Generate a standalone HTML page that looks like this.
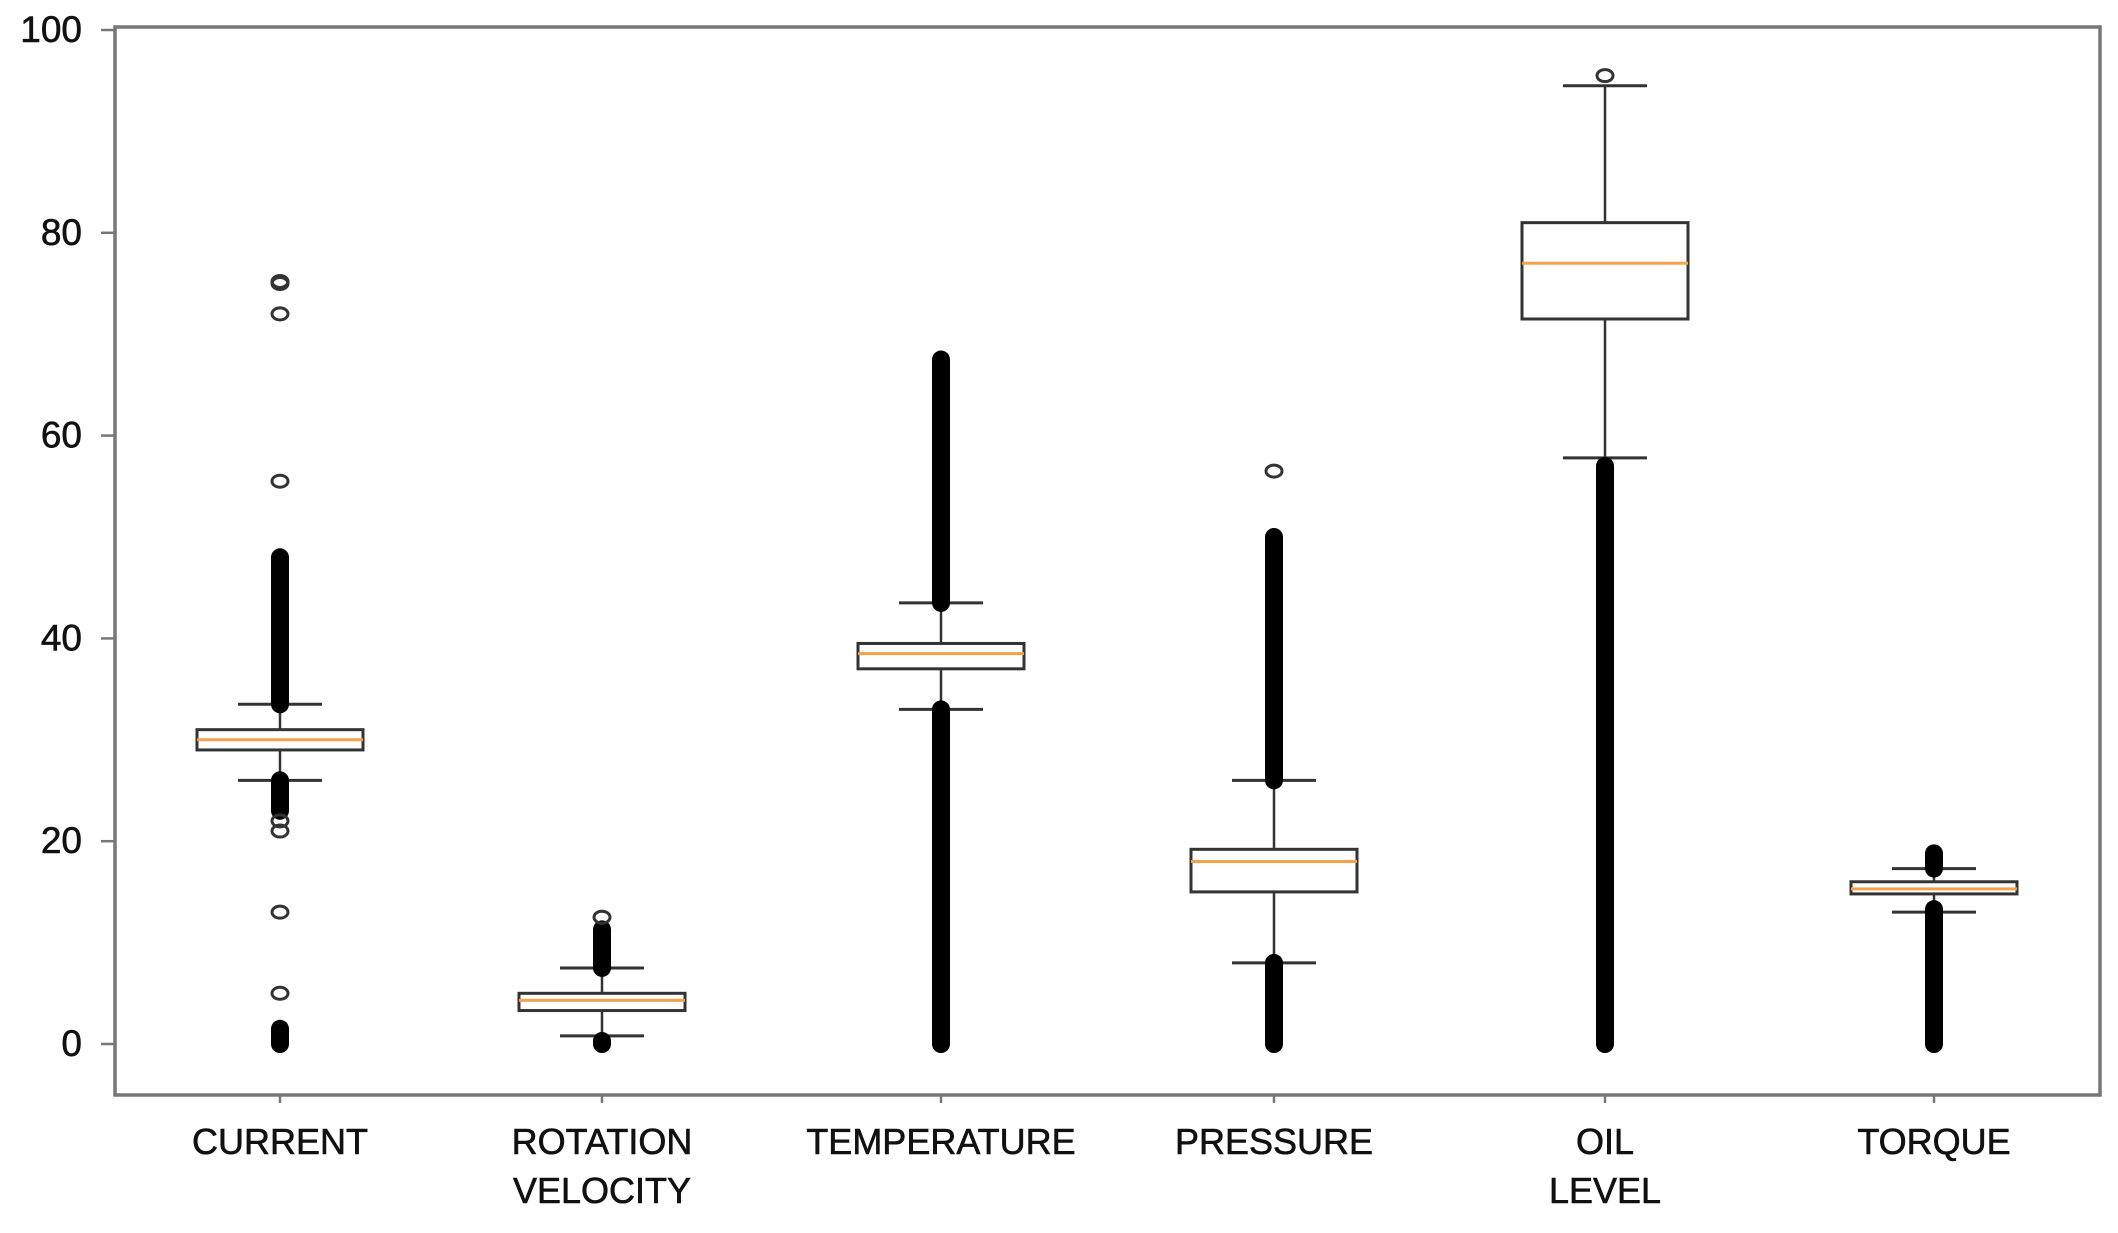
<!DOCTYPE html>
<html><head><meta charset="utf-8"><style>
html,body{margin:0;padding:0;background:#fff;}
svg{display:block;font-family:"Liberation Sans","DejaVu Sans",sans-serif;}
</style></head><body>
<svg id="chart" width="2118" height="1233" viewBox="0 0 2118 1233" xmlns="http://www.w3.org/2000/svg">
<rect x="0" y="0" width="2118" height="1233" fill="#fff"/>
<g id="plot"></g>
</svg>
<script>
const categories = ["CURRENT", "ROTATION|VELOCITY", "TEMPERATURE", "PRESSURE", "OIL|LEVEL", "TORQUE"];
const q1Values = [29, 3.3, 37, 15, 71.5, 14.8];
const medianValues = [30, 4.3, 38.5, 18, 77, 15.3];
const q3Values = [31, 5, 39.5, 19.2, 81, 16];
const whiskerLow = [26, 0.8, 33, 8, 57.8, 13];
const whiskerHigh = [33.5, 7.5, 43.5, 26, 94.5, 17.3];
const denseOutlierRanges = [
  [[33.5, 48], [23, 26], [0, 1.5]],
  [[7.5, 11.3], [0, 0.3]],
  [[43.5, 67.5], [0, 33]],
  [[26, 50], [0, 8]],
  [[0, 57]],
  [[17.3, 18.8], [0, 13.3]]
];
const singleOutliers = [
  [75, 75.2, 72, 55.5, 22, 21, 13, 5],
  [12.5],
  [],
  [56.5],
  [95.5],
  []
];
const yTicks = [0, 20, 40, 60, 80, 100];

const NS = "http://www.w3.org/2000/svg";
const L = 115, R = 2100, T = 27, B = 1095;
function yScale(v){ return 1044 - v * 10.14; }
const centers = [280, 602, 941, 1274, 1605, 1934];
function xScale(i){ return centers[i]; }
const halfW = 83;
const g = document.getElementById('plot');
function mk(tag, attrs, parent){
  const e = document.createElementNS(NS, tag);
  for (const k in attrs) e.setAttribute(k, attrs[k]);
  (parent || g).appendChild(e);
  return e;
}
const frame = mk('rect', {x:L, y:T, width:R-L, height:B-T, fill:'none', stroke:'#777', 'stroke-width':3.5});



yTicks.forEach(v => {
  const y = yScale(v);
  const t = mk('line', {x1:L-14, x2:L, y1:y, y2:y, stroke:'#777', 'stroke-width':2.5});
  
  
  const lb = mk('text', {x:82, y:y+12, 'text-anchor':'end', 'font-size':37, fill:'#111', stroke:'#111', 'stroke-width':0.6});
  lb.textContent = v;
  
  
});

categories.forEach((c, i) => {
  const x = xScale(i);
  const grp = mk('g', {});
  
  
  mk('line', {x1:x, x2:x, y1:yScale(whiskerHigh[i]), y2:yScale(q3Values[i]), stroke:'#333', 'stroke-width':2.5}, grp);
  mk('line', {x1:x, x2:x, y1:yScale(whiskerLow[i]), y2:yScale(q1Values[i]), stroke:'#333', 'stroke-width':2.5}, grp);
  mk('line', {x1:x-42, x2:x+42, y1:yScale(whiskerHigh[i]), y2:yScale(whiskerHigh[i]), stroke:'#333', 'stroke-width':3}, grp);
  mk('line', {x1:x-42, x2:x+42, y1:yScale(whiskerLow[i]), y2:yScale(whiskerLow[i]), stroke:'#333', 'stroke-width':3}, grp);
  mk('rect', {x:x-halfW, y:yScale(q3Values[i]), width:halfW*2, height:yScale(q1Values[i])-yScale(q3Values[i]), fill:'#fff', stroke:'#333', 'stroke-width':3}, grp);
  mk('line', {x1:x-halfW, x2:x+halfW, y1:yScale(medianValues[i]), y2:yScale(medianValues[i]), stroke:'#f5a04a', 'stroke-width':3}, grp);
  denseOutlierRanges[i].forEach(r => {
    const d = mk('line', {x1:x, x2:x, y1:yScale(r[0]), y2:yScale(r[1]), stroke:'#000', 'stroke-width':18, 'stroke-linecap':'round'}, grp);
    
    
  });
  singleOutliers[i].forEach(v => {
    const o = mk('ellipse', {cx:x, cy:yScale(v), rx:8, ry:6, fill:'none', stroke:'#333', 'stroke-width':3}, grp);
    
    
  });
  const tk = mk('line', {x1:x, x2:x, y1:B, y2:B+8, stroke:'#777', 'stroke-width':2.5});
  
  
  c.split('|').forEach((ln, k) => {
    const t = mk('text', {x:x, y:1154 + k*49, 'text-anchor':'middle', 'font-size':36, fill:'#111', stroke:'#111', 'stroke-width':0.6});
    t.textContent = ln;
    
    
  });
});
</script>
</body></html>
